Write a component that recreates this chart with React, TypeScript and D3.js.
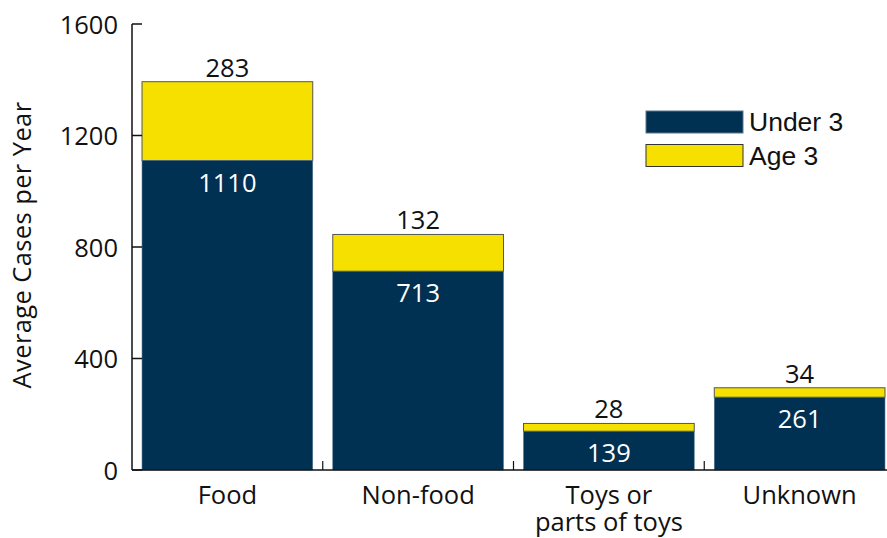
import React from "react";
import * as d3 from "d3";

const categories = ["Food", "Non-food", "Toys or\nparts of toys", "Unknown"];
const under3 = [1110, 713, 139, 261];
const age3 = [283, 132, 28, 34];
const yTicks = [0, 400, 800, 1200, 1600];
const seriesNames = ["Under 3", "Age 3"];

const NAVY = "#003052";
const YELLOW = "#F5E000";
const FONT = "'Open Sans', sans-serif";
const FS = 25.5;
const FW = 400;

export default function App() {
  const W = 887, H = 538;
  const x = d3.scaleBand<number>().domain(d3.range(categories.length)).range([132, 895]).paddingInner(0.105).paddingOuter(0.0525);
  const y = d3.scaleLinear().domain([0, 1600]).range([470, 24]);
  const step = x.step();
  const x0 = 132;
  return (
    <svg width={W} height={H} style={{ position: "absolute", left: 0, top: 0 }}>
      <rect width={W} height={H} fill="#fff" />
      {categories.map((c, i) => {
        const bx = x(i)!;
        const bw = x.bandwidth();
        const yU = y(under3[i]);
        const yT = y(under3[i] + age3[i]);
        const cx = bx + bw / 2;
        const lines = c.split("\n");
        return (
          <g key={c}>
            <rect x={bx} y={yT} width={bw} height={yU - yT} fill={YELLOW} stroke="#555" strokeWidth={1} />
            <rect x={bx} y={yU} width={bw} height={y(0) - yU} fill={NAVY} stroke="#5a7790" strokeWidth={0.6} />
            <text x={cx} y={yT - 5} textAnchor="middle" fontFamily={FONT} fontWeight={FW} fontSize={FS} fill="#111">{age3[i]}</text>
            <text x={cx} y={yU + 31} textAnchor="middle" fontFamily={FONT} fontWeight={FW} fontSize={FS} fill="#fff">{under3[i]}</text>
            {lines.map((l, j) => (
              <text key={j} x={cx} y={504 + j * 27} textAnchor="middle" fontFamily={FONT} fontWeight={FW} fontSize={FS} fill="#111">{l}</text>
            ))}
          </g>
        );
      })}
      {/* axes */}
      <line x1={x0} x2={x0} y1={y(1600)} y2={y(0)} stroke="#111" strokeWidth={1.5} />
      <line x1={x0} x2={W} y1={y(0)} y2={y(0)} stroke="#111" strokeWidth={1.5} />
      {yTicks.map((t) => (
        <g key={t}>
          <line x1={x0} x2={x0 + 10} y1={y(t)} y2={y(t)} stroke="#111" strokeWidth={1.5} />
          <text x={x0 - 14} y={y(t) + 9.5} textAnchor="end" fontFamily={FONT} fontWeight={FW} fontSize={FS} fill="#111">{t}</text>
        </g>
      ))}
      {d3.range(1, categories.length).map((i) => (
        <line key={i} x1={x0 + step * i} x2={x0 + step * i} y1={y(0)} y2={y(0) - 9} stroke="#111" strokeWidth={1.2} />
      ))}
      <text transform={`translate(31,${245}) rotate(-90)`} textAnchor="middle" fontFamily={FONT} fontWeight={FW} fontSize={FS} letterSpacing={0.4} fill="#111">Average Cases per Year</text>
      {/* legend */}
      {seriesNames.map((s, i) => (
        <g key={s}>
          <rect x={646} y={111 + i * 33.5} width={97} height={22} fill={i === 0 ? NAVY : YELLOW} stroke={i === 0 ? "#5a7790" : "#333"} strokeWidth={1} />
          <text x={749} y={131 + i * 33.5} fontFamily="'Liberation Sans', Arial, sans-serif" fontSize={26.5} fill="#111">{s}</text>
        </g>
      ))}
    </svg>
  );
}
